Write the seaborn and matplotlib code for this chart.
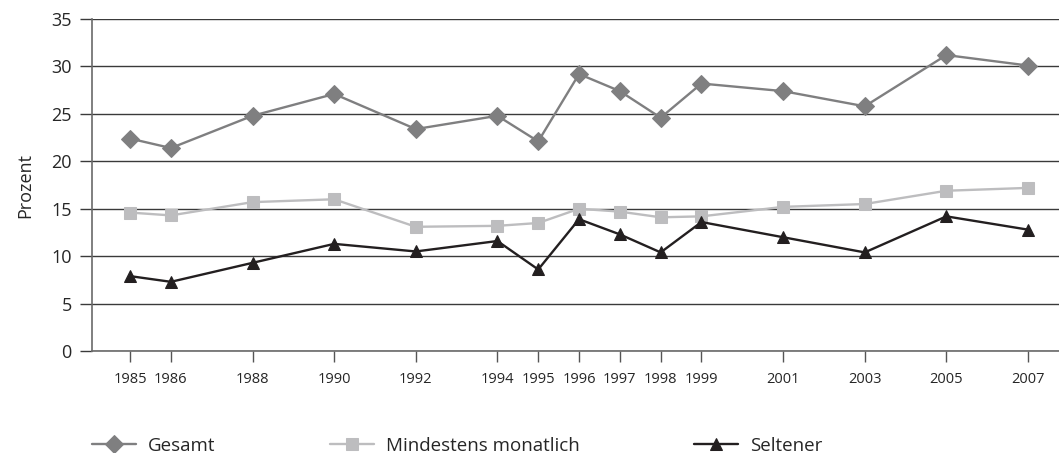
import pandas as pd
import matplotlib.pyplot as plt
import seaborn as sns

years = [1985, 1986, 1988, 1990, 1992, 1994, 1995, 1996, 1997, 1998, 1999, 2001, 2003, 2005, 2007]
gesamt = [22.4, 21.4, 24.8, 27.1, 23.4, 24.8, 22.1, 29.2, 27.4, 24.6, 28.2, 27.4, 25.8, 31.2, 30.1]
monatlich = [14.6, 14.3, 15.7, 16.0, 13.1, 13.2, 13.5, 15.0, 14.7, 14.1, 14.2, 15.2, 15.5, 16.9, 17.2]
seltener = [7.9, 7.3, 9.3, 11.3, 10.5, 11.6, 8.6, 13.9, 12.3, 10.4, 13.6, 12.0, 10.4, 14.2, 12.8]

series = [
    ("Gesamt", gesamt, "#7f7f80", "D"),
    ("Mindestens monatlich", monatlich, "#bdbdbf", "s"),
    ("Seltener", seltener, "#231f20", "^"),
]

sns.set_style("white")
plt.rcParams["font.family"] = ["Open Sans", "DejaVu Sans"]

fig = plt.figure(figsize=(10.59, 4.53), dpi=100)
ax = fig.add_axes([0.087, 0.225, 0.913, 0.733])

for name, vals, color, marker in series:
    df = pd.DataFrame({"Jahr": years, "Wert": vals})
    sns.lineplot(data=df, x="Jahr", y="Wert", ax=ax, color=color, marker=marker,
                 markersize=9 if marker != "^" else 8, markeredgecolor=color,
                 linewidth=1.7, label=name)

ax.set_xlim(1984.07, 2007.76)
ax.set_ylim(0, 35)
ax.set_yticks(range(0, 36, 5))
ax.set_xticks(years)
ax.set_xticklabels([str(y) for y in years], fontsize=10.5)
ax.tick_params(axis="y", labelsize=13, length=8.6, width=1, color="#3a3a3a",
               direction="out", left=True, pad=6)
ax.tick_params(axis="x", length=8, width=1, color="#555555", direction="out",
               bottom=True, pad=7)
ax.yaxis.grid(True, color="#3a3a3a", linewidth=1)
ax.set_axisbelow(True)
ax.set_xlabel("")
ax.set_ylabel("Prozent", fontsize=13, labelpad=12)

for side in ["top", "right"]:
    ax.spines[side].set_visible(False)
for side in ["left", "bottom"]:
    ax.spines[side].set_color("#6a6a6a")
    ax.spines[side].set_linewidth(1.2)

ax.legend(loc="center left", bbox_to_anchor=(0.0, -0.285), borderaxespad=0, borderpad=0,
          ncol=3, frameon=False, fontsize=13.5, handlelength=2.35, columnspacing=6.1,
          handletextpad=0.64)

plt.savefig("out.png", dpi=100)
plt.close()
